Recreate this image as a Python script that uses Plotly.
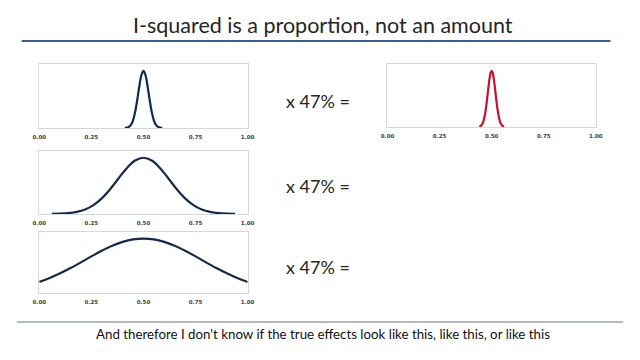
import plotly.graph_objects as go

# ---- data (curve heights normalised to peak = 1) ----
x_narrow = [0.41, 0.42, 0.43, 0.44, 0.45, 0.46, 0.47, 0.48, 0.49, 0.50,
            0.51, 0.52, 0.53, 0.54, 0.55, 0.56, 0.57, 0.58, 0.59]
y_narrow = [0.0015, 0.006, 0.020, 0.056, 0.135, 0.278, 0.487, 0.726, 0.923, 1.0,
            0.923, 0.726, 0.487, 0.278, 0.135, 0.056, 0.020, 0.006, 0.0015]

x_medium = [0.06, 0.10, 0.14, 0.18, 0.22, 0.26, 0.30, 0.34, 0.38, 0.42, 0.46, 0.50,
            0.54, 0.58, 0.62, 0.66, 0.70, 0.74, 0.78, 0.82, 0.86, 0.90, 0.94]
y_medium = [0.002, 0.006, 0.016, 0.038, 0.081, 0.158, 0.278, 0.441, 0.631, 0.815, 0.950, 1.0,
            0.950, 0.815, 0.631, 0.441, 0.278, 0.158, 0.081, 0.038, 0.016, 0.006, 0.002]

x_wide = [0.00, 0.05, 0.10, 0.15, 0.20, 0.25, 0.30, 0.35, 0.40, 0.45, 0.50,
          0.55, 0.60, 0.65, 0.70, 0.75, 0.80, 0.85, 0.90, 0.95, 1.00]
y_wide = [0.203, 0.275, 0.361, 0.458, 0.563, 0.672, 0.775, 0.867, 0.938, 0.984, 1.0,
          0.984, 0.938, 0.867, 0.775, 0.672, 0.563, 0.458, 0.361, 0.275, 0.203]

x_result = [0.440, 0.445, 0.450, 0.455, 0.460, 0.465, 0.470, 0.475, 0.480, 0.485, 0.490, 0.495, 0.500,
            0.505, 0.510, 0.515, 0.520, 0.525, 0.530, 0.535, 0.540, 0.545, 0.550, 0.555, 0.560]
y_result = [0.005, 0.012, 0.026, 0.052, 0.097, 0.167, 0.268, 0.401, 0.558, 0.720, 0.864, 0.964, 1.0,
            0.964, 0.864, 0.720, 0.558, 0.401, 0.268, 0.167, 0.097, 0.052, 0.026, 0.012, 0.005]

tick_vals = [0.0, 0.25, 0.5, 0.75, 1.0]
tick_text = ["0.00", "0.25", "0.50", "0.75", "1.00"]

title_text = "I-squared is a proportion, not an amount"
footer_text = "And therefore I don't know if the true effects look like this, like this, or like this"
mult_label = "x 47% ="

W, H = 640, 360
NAVY = "#15294a"
RED = "#c8102e"


def dx(px):
    return px / W


def dy(py):
    return 1 - py / H


# panel boxes in pixels: (left, top, right, bottom)
panels = [
    (33, 64, 246, 128, x_narrow, y_narrow, NAVY),
    (33, 151, 246, 214, x_medium, y_medium, NAVY),
    (33, 232, 246, 293, x_wide, y_wide, NAVY),
    (389, 64, 602, 127, x_result, y_result, RED),
]

fig = go.Figure()
layout = dict(
    width=W, height=H,
    margin=dict(l=0, r=0, t=0, b=0),
    paper_bgcolor="white", plot_bgcolor="white",
    showlegend=False,
    font=dict(family="Lato, Open Sans, sans-serif"),
)

for i, (l, t, r, b, xs, ys, col) in enumerate(panels, start=1):
    xa = "x" if i == 1 else f"x{i}"
    ya = "y" if i == 1 else f"y{i}"
    fig.add_trace(go.Scatter(
        x=xs, y=ys, mode="lines", line=dict(color=col, width=2.2, shape="spline"),
        xaxis=xa, yaxis=ya, hoverinfo="skip"))
    key = "" if i == 1 else str(i)
    layout["xaxis" + key] = dict(
        domain=[dx(l), dx(r)], range=[0, 1], anchor=ya,
        tickvals=tick_vals, ticktext=tick_text, ticks="",
        showgrid=False, zeroline=False,
        showline=True, linecolor="#d4d8dd", linewidth=1, mirror=True,
        tickfont=dict(size=5.5, color="#404040", family="DejaVu Sans, sans-serif", weight="bold"),
        ticklabelstandoff=3,
    )
    layout["yaxis" + key] = dict(
        domain=[dy(b), dy(t)], range=[0, 1.12], anchor=xa,
        showticklabels=False, ticks="", showgrid=False, zeroline=False,
        showline=True, linecolor="#d4d8dd", linewidth=1, mirror=True,
    )

fig.update_layout(**layout)

# title + rule
fig.add_annotation(x=dx(323), y=dy(25), xref="paper", yref="paper", text=title_text,
                   showarrow=False, xanchor="center", yanchor="middle",
                   font=dict(size=21.5, color="#262626", family="Lato, sans-serif"))
fig.add_shape(type="line", xref="paper", yref="paper", x0=dx(15), x1=dx(617),
              y0=dy(41), y1=dy(41), line=dict(color="#3f5f8a", width=2))

# multiplication labels
for yc in [101, 186, 267]:
    fig.add_annotation(x=dx(283), y=dy(yc), xref="paper", yref="paper", text=mult_label,
                       showarrow=False, xanchor="left", yanchor="middle",
                       font=dict(size=18, color="#262626", family="Lato, sans-serif"))

# footer
fig.add_shape(type="line", xref="paper", yref="paper", x0=dx(10), x1=dx(630),
              y0=dy(322), y1=dy(322), line=dict(color="#9aa3af", width=1.5))
fig.add_annotation(x=dx(323), y=dy(334), xref="paper", yref="paper", text=footer_text,
                   showarrow=False, xanchor="center", yanchor="middle",
                   font=dict(size=13.3, color="#111111", family="Lato, sans-serif"))

fig.write_html("out.html")
